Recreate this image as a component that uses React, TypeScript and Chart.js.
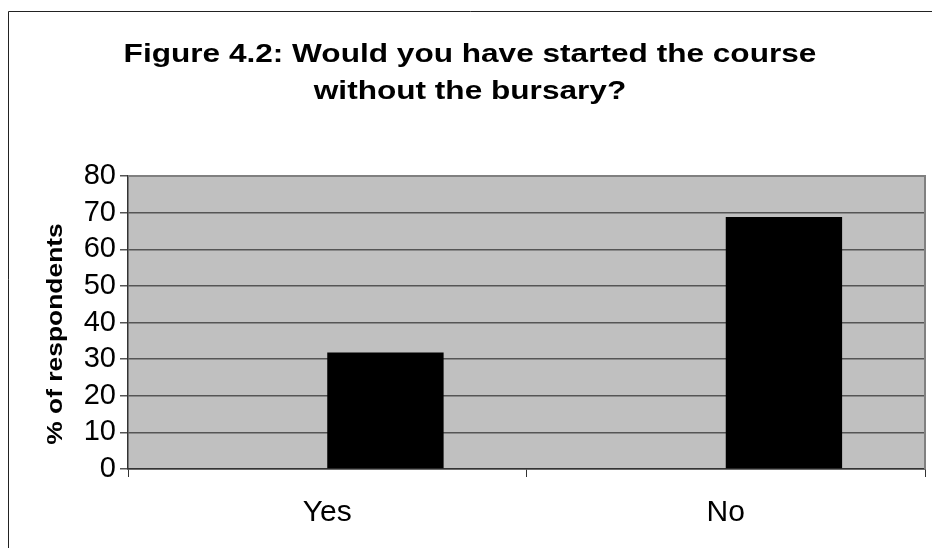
import React, { useEffect, useRef } from "react";
import { Chart, registerables } from "chart.js";

Chart.register(...registerables);

const categories = ["Yes", "No"];
const emptySeries: (number | null)[] = [null, null];
const respondentsPct = [31.8, 68.8];
const yTicks = [0, 10, 20, 30, 40, 50, 60, 70, 80];
const titleLines = ["Figure 4.2: Would you have started the course", "without the bursary?"];
const yAxisTitle = "% of respondents";

const FONT = "'Liberation Sans', Arial, sans-serif";

const decorPlugin = {
  id: "decor",
  beforeDraw(chart: any) {
    const { ctx, chartArea } = chart;
    ctx.save();
    ctx.fillStyle = "#ffffff";
    ctx.fillRect(0, 0, chart.width, chart.height);
    ctx.fillStyle = "#C0C0C0";
    ctx.fillRect(chartArea.left, chartArea.top, chartArea.right - chartArea.left, chartArea.bottom - chartArea.top);
    ctx.restore();
  },
  afterDatasetsDraw(chart: any) {
    const { ctx, chartArea } = chart;
    ctx.save();
    ctx.strokeStyle = "#808080";
    ctx.lineWidth = 2;
    ctx.beginPath();
    ctx.moveTo(chartArea.left, chartArea.top);
    ctx.lineTo(chartArea.right, chartArea.top);
    ctx.lineTo(chartArea.right, chartArea.bottom);
    ctx.stroke();
    ctx.restore();
  },
  afterDraw(chart: any) {
    const { ctx } = chart;
    ctx.save();
    // outer chart border (left and top edges visible)
    ctx.strokeStyle = "#222222";
    ctx.lineWidth = 1;
    ctx.beginPath();
    ctx.moveTo(8.5, chart.height);
    ctx.lineTo(8.5, 11.5);
    ctx.lineTo(chart.width, 11.5);
    ctx.stroke();

    // title
    ctx.fillStyle = "#000000";
    ctx.font = `bold 26px ${FONT}`;
    ctx.textAlign = "center";
    ctx.textBaseline = "alphabetic";
    const baselines = [62, 99];
    titleLines.forEach((line, i) => {
      ctx.save();
      ctx.translate(470, baselines[i]);
      ctx.scale(1.215, 1);
      ctx.fillText(line, 0, 0);
      ctx.restore();
    });

    // y axis title
    ctx.font = `bold 22px ${FONT}`;
    ctx.save();
    ctx.translate(62, 334);
    ctx.rotate(-Math.PI / 2);
    ctx.scale(1.2, 1);
    ctx.fillText(yAxisTitle, 0, 0);
    ctx.restore();
    ctx.restore();
  },
};

export default function App() {
  const canvasRef = useRef<HTMLCanvasElement | null>(null);

  useEffect(() => {
    if (!canvasRef.current) return;
    const chart = new Chart(canvasRef.current, {
      type: "bar",
      data: {
        labels: categories,
        datasets: [
          {
            label: "Series1",
            data: emptySeries,
            backgroundColor: "#000000",
          },
          {
            label: "% of respondents",
            data: respondentsPct,
            backgroundColor: "#000000",
            borderWidth: 0,
          },
        ],
      },
      options: {
        responsive: false,
        animation: false,
        devicePixelRatio: 1,
        layout: { padding: { left: 0, top: 176, right: 7, bottom: 0 } },
        datasets: {
          bar: { categoryPercentage: 0.584, barPercentage: 1.0 },
        },
        plugins: {
          legend: { display: false },
          title: { display: false },
          tooltip: { enabled: false },
        },
        scales: {
          x: {
            offset: true,
            grid: {
              offset: true,
              drawOnChartArea: false,
              drawTicks: true,
              tickLength: 8,
              color: "#333333",
              lineWidth: 1,
            },
            border: { display: true, color: "#333333", width: 1.5 },
            ticks: {
              color: "#000000",
              font: { family: FONT, size: 30 },
              padding: 18,
            },
            afterFit(scale: any) {
              scale.height = 79;
            },
          },
          y: {
            min: 0,
            max: 80,
            afterBuildTicks(scale: any) {
              scale.ticks = yTicks.map((v) => ({ value: v }));
            },
            grid: {
              color: "#555555",
              lineWidth: 1.5,
              drawTicks: true,
              tickLength: 8,
            },
            border: { display: true, color: "#333333", width: 1.5 },
            ticks: {
              color: "#000000",
              font: { family: FONT, size: 29 },
              padding: 4,
              autoSkip: false,
              stepSize: 10,
            },
            afterFit(scale: any) {
              scale.width = 128;
            },
          },
        },
      },
      plugins: [decorPlugin],
    });
    return () => chart.destroy();
  }, []);

  return (
    <div style={{ position: "absolute", left: 0, top: 0, width: 932, height: 548 }}>
      <canvas ref={canvasRef} width={932} height={548} style={{ display: "block" }} />
    </div>
  );
}
